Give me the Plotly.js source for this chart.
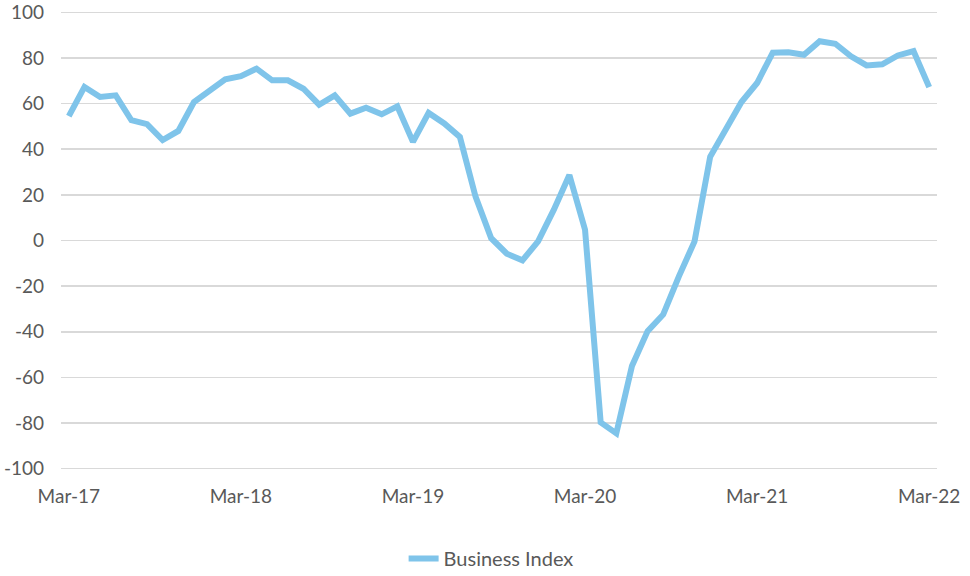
<!DOCTYPE html>
<html>
<head>
<meta charset="utf-8">
<script src="https://cdn.plot.ly/plotly-3.0.1.min.js"></script>
<style>
  html, body { margin: 0; padding: 0; background: #fff; }
  #chart { width: 970px; height: 576px; }
</style>
</head>
<body>
<div id="chart"></div>
<script>
// business index readings, one per period
var businessIndex = [
  54.5, 67.3, 62.9, 63.6, 52.7, 51.0, 44.0, 48.0, 60.7, 65.5,
  70.6, 72.0, 75.3, 70.2, 70.2, 66.5, 59.5, 63.6, 55.6, 58.2,
  55.3, 58.8, 43.2, 55.9, 51.3, 45.4, 19.2, 1.0, -5.8, -8.7,
  -0.4, 13.4, 28.7, 4.7, -79.7, -84.5, -55.0, -39.7, -32.4, -15.7,
  -0.4, 36.7, 49.0, 60.7, 69.0, 82.3, 82.5, 81.4, 87.3, 86.2,
  80.7, 76.7, 77.2, 81.1, 83.0, 67.2
];

// x axis labels and the periods they sit on
var tickPeriods = [0, 11, 22, 33, 44, 55];
var tickLabels = ['Mar-17', 'Mar-18', 'Mar-19', 'Mar-20', 'Mar-21', 'Mar-22'];

// y axis ticks (excel style hyphen minus)
var yTicks = [-100, -80, -60, -40, -20, 0, 20, 40, 60, 80, 100];
var yTickLabels = ['-100', '-80', '-60', '-40', '-20', '0', '20', '40', '60', '80', '100'];

var periods = businessIndex.map(function (v, i) { return i; });

var textFont = { family: 'Lato, "Liberation Sans", sans-serif', size: 19, color: '#595959' };

var series = {
  x: periods,
  y: businessIndex,
  type: 'scatter',
  mode: 'lines',
  name: 'Business Index',
  line: { color: '#7fc4ea', width: 6 }
};

var layout = {
  width: 970,
  height: 576,
  margin: { l: 61, r: 33, t: 10, b: 105, autoexpand: false },
  paper_bgcolor: '#fff',
  plot_bgcolor: '#fff',
  font: textFont,
  showlegend: true,
  legend: {
    orientation: 'h',
    x: 0.491,
    xanchor: 'center',
    y: -0.19,
    yanchor: 'middle',
    font: { family: textFont.family, size: 20, color: '#595959' }
  },
  xaxis: {
    range: [-0.5, businessIndex.length - 0.5],
    tickmode: 'array',
    tickvals: tickPeriods,
    ticktext: tickLabels,
    showgrid: false,
    zeroline: false,
    showline: false,
    ticks: '',
    ticklabelstandoff: 12,
    ticklabeloverflow: 'allow',
    tickfont: textFont,
    fixedrange: true
  },
  yaxis: {
    range: [-101, 101],
    tickmode: 'array',
    tickvals: yTicks,
    ticktext: yTickLabels,
    showgrid: true,
    gridcolor: '#d9d9d9',
    gridwidth: 1.5,
    zeroline: false,
    showline: false,
    ticks: '',
    ticklabelstandoff: 16,
    ticklabeloverflow: 'allow',
    tickfont: textFont,
    fixedrange: true
  }
};

Plotly.newPlot('chart', [series], layout, { displayModeBar: false, staticPlot: true });
</script>
</body>
</html>
